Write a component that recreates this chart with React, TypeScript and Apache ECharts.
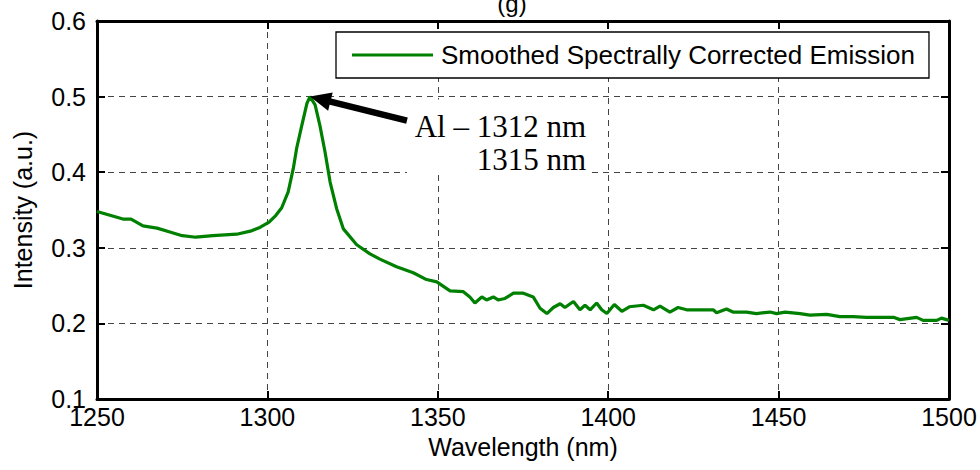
import React, { useEffect, useRef } from 'react';
import * as echarts from 'echarts';

const wavelength = [
  1250, 1253.8, 1257.6, 1260, 1263.5, 1267.6, 1271.4, 1275, 1279, 1284, 1291, 1295, 1297.8,
  1300.5, 1302.5, 1304.2, 1306.1, 1307.6, 1308.6, 1310.1, 1311.6, 1312.5, 1314, 1315.4, 1316.9,
  1318.4, 1320.3, 1322.3, 1326.2, 1330.1, 1333, 1337.9, 1342.8, 1346.7, 1349.7, 1353.6, 1357.5,
  1359.4, 1360.9, 1362.9, 1364.3, 1366.3, 1367.7, 1369.7, 1372.2, 1375.1, 1378, 1380, 1382,
  1383.9, 1385.9, 1387.3, 1389.8, 1391.7, 1393.2, 1394.7, 1396.6, 1398.1, 1399.6, 1401.8, 1404,
  1406.2, 1410.3, 1413.3, 1415.2, 1418.1, 1420.5, 1423, 1430.8, 1431.8, 1434.7, 1436.6, 1440.6,
  1443.5, 1447.5, 1449.4, 1451.9, 1456.3, 1459.2, 1464.1, 1468, 1471.9, 1475.8, 1483.7, 1485.6,
  1490.5, 1492.4, 1496.4, 1497.8, 1500,
];
const intensity = [
  0.348, 0.343, 0.338, 0.338, 0.329, 0.326, 0.321, 0.316, 0.314, 0.316, 0.318, 0.322, 0.327,
  0.334, 0.343, 0.353, 0.374, 0.405, 0.432, 0.462, 0.491, 0.5, 0.489, 0.462, 0.427,
  0.387, 0.352, 0.325, 0.304, 0.292, 0.285, 0.275, 0.267, 0.258, 0.255, 0.243, 0.242,
  0.235, 0.227, 0.235, 0.231, 0.235, 0.231, 0.233, 0.24, 0.24, 0.235, 0.22, 0.213,
  0.221, 0.226, 0.221, 0.229, 0.218, 0.224, 0.218, 0.227, 0.218, 0.213, 0.225, 0.216,
  0.222, 0.224, 0.218, 0.223, 0.215, 0.221, 0.218, 0.218, 0.214, 0.219, 0.215, 0.215,
  0.213, 0.215, 0.213, 0.215, 0.213, 0.211, 0.212, 0.209, 0.209, 0.208, 0.208, 0.205,
  0.208, 0.204, 0.204, 0.207, 0.204,
];
const xRange = [1250, 1500, 50];
const yRange = [0.1, 0.6, 0.1];
const seriesName = 'Smoothed Spectrally Corrected Emission';
const xTitle = 'Wavelength (nm)';
const yTitle = 'Intensity (a.u.)';
const chartTitle = '(g)';
const peakLines = ['Al \u2013 1312 nm', '1315 nm'];
const peakPoint = [1312.5, 0.5];

export default function App() {
  const ref = useRef<HTMLDivElement>(null);
  useEffect(() => {
    const chart = echarts.init(ref.current!, null, { renderer: 'svg' });
    const sans = '"Liberation Sans", Arial, Helvetica, sans-serif';
    const serif = '"Liberation Serif", "Times New Roman", serif';
    const axisLine = { show: true, onZero: false, lineStyle: { color: '#000', width: 3 } };
    const axisTick = { show: true, inside: true, length: 8, lineStyle: { color: '#000', width: 2 } };
    const split = { show: true, lineStyle: { color: '#444', width: 1, type: [6, 5] } };
    const data = wavelength.map((w, i) => [w, intensity[i]]);

    chart.setOption({
      animation: false,
      backgroundColor: '#fff',
      grid: { left: 97, right: 31, top: 21, bottom: 71, containLabel: false },
      legend: {
        data: [{ name: seriesName, icon: 'rect' }],
        left: 336,
        top: 32,
        padding: [10, 14, 10, 16],
        itemWidth: 81,
        itemHeight: 3,
        itemGap: 8,
        borderColor: '#000',
        borderWidth: 1.3,
        backgroundColor: '#fff',
        textStyle: { fontFamily: sans, fontSize: 26, color: '#000', padding: [0, 0, 0, 3] },
      },
      xAxis: [
        {
          type: 'value', min: xRange[0], max: xRange[1], interval: xRange[2],
          axisLine, axisTick, splitLine: split,
          axisLabel: { fontFamily: sans, fontSize: 25, color: '#000', margin: 9, lineHeight: 18, formatter: (v: number) => String(v) },
          name: xTitle, nameLocation: 'middle', nameGap: 31,
          nameTextStyle: { fontFamily: sans, fontSize: 25, color: '#000' },
        },
        {
          type: 'value', position: 'top', min: xRange[0], max: xRange[1], interval: xRange[2],
          axisLine, axisTick, splitLine: { show: false }, axisLabel: { show: false },
        },
      ],
      yAxis: [
        {
          type: 'value', min: yRange[0], max: yRange[1], interval: yRange[2],
          axisLine, axisTick, splitLine: split,
          axisLabel: { fontFamily: sans, fontSize: 25, color: '#000', margin: 11, lineHeight: 18, formatter: (v: number) => v.toFixed(1) },
          name: yTitle, nameLocation: 'middle', nameGap: 62,
          nameTextStyle: { fontFamily: sans, fontSize: 25, color: '#000' },
        },
        {
          type: 'value', position: 'right', min: yRange[0], max: yRange[1], interval: yRange[2],
          axisLine, axisTick, splitLine: { show: false }, axisLabel: { show: false },
        },
      ],
      series: [
        {
          name: seriesName,
          type: 'line',
          data,
          symbol: 'none',
          lineStyle: { color: '#008000', width: 3.2 },
          itemStyle: { color: '#008000' },
          z: 5,
        },
      ],
    });

    const tip = chart.convertToPixel({ gridIndex: 0 }, peakPoint) as number[];
    const tx = tip[0];
    const ty = tip[1];
    const tail = [tx + 97, ty + 24];
    const ux = (tx - tail[0]);
    const uy = (ty - tail[1]);
    const len = Math.sqrt(ux * ux + uy * uy);
    const dx = ux / len;
    const dy = uy / len;
    const headLen = 21;
    const headHalf = 9.5;
    const base = [tx - dx * headLen, ty - dy * headLen];
    const px = -dy * headHalf;
    const py = dx * headHalf;

    chart.setOption({
      graphic: [
        {
          type: 'text', z: 100,
          style: { text: chartTitle, x: 512, y: 15, align: 'center', verticalAlign: 'bottom', font: `24px ${sans}`, fill: '#000' },
        },
        {
          type: 'rect', z: 100,
          shape: { x: tx + 97, y: ty + 3, width: 183, height: 74 },
          style: { fill: '#fff' },
        },
        {
          type: 'text', z: 101,
          style: { text: peakLines[0], x: tx + 276, y: ty + 30, align: 'right', verticalAlign: 'middle', font: `31px ${serif}`, fill: '#000' },
        },
        {
          type: 'text', z: 101,
          style: { text: peakLines[1], x: tx + 276, y: ty + 63, align: 'right', verticalAlign: 'middle', font: `31px ${serif}`, fill: '#000' },
        },
        {
          type: 'line', z: 102,
          shape: { x1: tail[0], y1: tail[1], x2: base[0] + dx * 2, y2: base[1] + dy * 2 },
          style: { stroke: '#000', lineWidth: 6.5 },
        },
        {
          type: 'polygon', z: 102,
          shape: { points: [[tx, ty], [base[0] + px, base[1] + py], [base[0] - px, base[1] - py]] },
          style: { fill: '#000' },
        },
      ],
    });

    return () => chart.dispose();
  }, []);
  return <div ref={ref} style={{ position: 'fixed', left: 0, top: 0, width: 980, height: 470 }} />;
}
